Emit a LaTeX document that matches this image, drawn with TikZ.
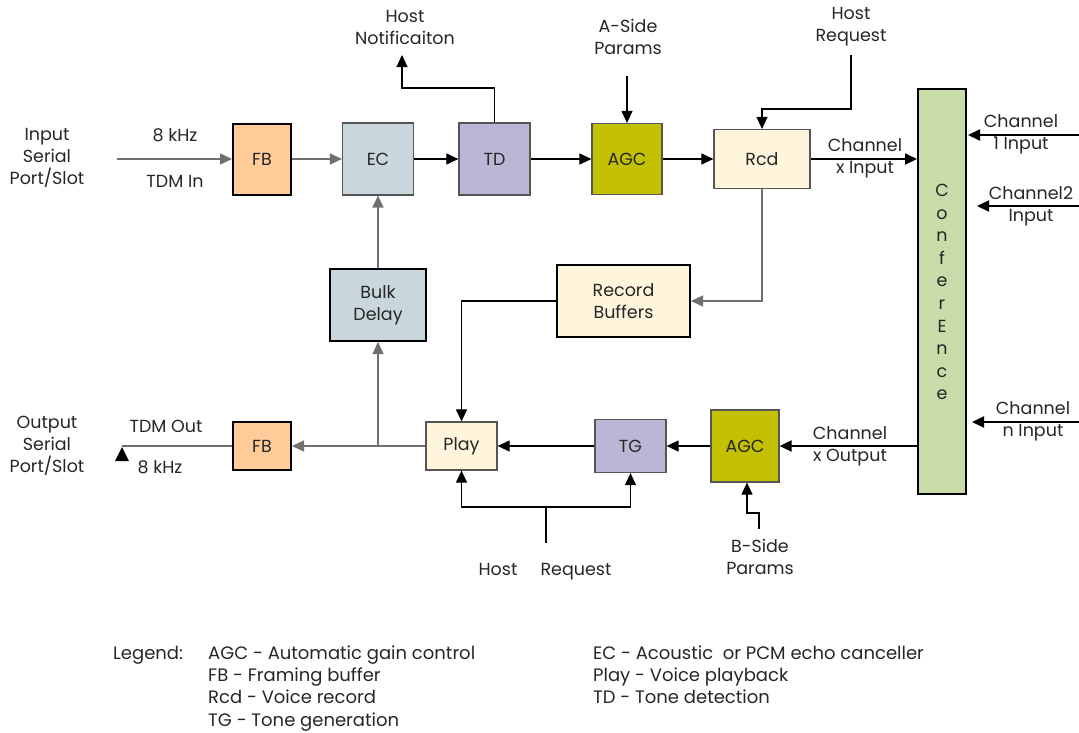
\documentclass[tikz,border=0pt]{standalone}
\usepackage{fontspec}
\setmainfont{Poppins}
\usetikzlibrary{arrows.meta}
\definecolor{fbc}{HTML}{FFCC99}
\definecolor{ecc}{HTML}{C9D7DD}
\definecolor{tdc}{HTML}{B9B7D5}
\definecolor{agcc}{HTML}{C2C000}
\definecolor{crm}{HTML}{FFF5DC}
\definecolor{cnf}{HTML}{CADBAA}
\definecolor{txt}{HTML}{262626}
\definecolor{lgray}{HTML}{707070}
\definecolor{bgray}{HTML}{555555}
\begin{document}
\begin{tikzpicture}[x=1pt,y=-1pt,
  >={Triangle[length=12pt,width=11pt]},
  every node/.style={font=\fontsize{17.5}{22}\selectfont, text=txt},
  box/.style={draw=#1, inner sep=0pt, align=center},
  thickbox/.style={box=black, line width=2pt},
  thinbox/.style={box=bgray, line width=1.2pt},
  lbl/.style={align=center, inner sep=0pt},
  conn/.style={line width=1.1pt, draw=black},
  gconn/.style={line width=1.3pt, draw=lgray},
  bconn/.style={line width=2pt, draw=black},
  leg/.style={anchor=base west, inner sep=0pt, font=\fontsize{18}{20}\selectfont}]
\useasboundingbox (0,0) rectangle (1079,732);

% ---------- blocks ----------
\node[thickbox, fill=fbc, minimum width=58pt, minimum height=71pt] (fb1) at (262,159) {FB};
\node[thinbox, fill=ecc, minimum width=71pt, minimum height=72pt] (ec) at (378,159) {EC};
\node[thinbox, fill=tdc, minimum width=71pt, minimum height=72pt] (td) at (494.5,159) {TD};
\node[thinbox, fill=agcc, minimum width=70pt, minimum height=71pt] (agc1) at (627,159) {AGC};
\node[thinbox, fill=crm, minimum width=96pt, minimum height=59pt] (rcd) at (762,159) {Rcd};
\node[thickbox, fill=cnf, minimum width=48pt, minimum height=405pt] (conf) at (942,291.5) {};
\node[lbl, font=\fontsize{17.5}{22.6}\selectfont] (conftxt) at (942,292) {C\\o\\n\\f\\e\\r\\E\\n\\c\\e};

\node[thickbox, fill=crm, minimum width=133pt, minimum height=72pt] (rb) at (623.5,301) {Record\\Buffers};
\node[thickbox, fill=ecc, minimum width=96pt, minimum height=72pt] (bd) at (378,305) {Bulk\\Delay};

\node[thickbox, fill=fbc, minimum width=58pt, minimum height=48pt] (fb2) at (262,446) {FB};
\node[thinbox, fill=crm, minimum width=71pt, minimum height=48pt] (play) at (461.5,446) {Play};
\node[thinbox, fill=tdc, minimum width=71pt, minimum height=53pt] (tg) at (630.5,446) {TG};
\node[thinbox, fill=agcc, minimum width=68pt, minimum height=72pt] (agc2) at (745,446) {AGC};

% ---------- labels ----------
\node[lbl] (inlbl) at (47,158) {Input\\Serial\\Port/Slot};
\node[lbl] (khz1) at (175,135) {8 kHz};
\node[lbl] (tdmin) at (175,181) {TDM In};
\node[lbl] (hn) at (405,27) {Host\\Notificaiton};
\node[lbl] (asp) at (628,37) {A-Side\\Params};
\node[lbl] (hrq) at (851,27) {Host\\Request};
\node[lbl] (cxi) at (865,158) {Channel\\x Input};
\node[lbl] (c1i) at (1021,134.5) {Channel\\1 Input};
\node[lbl] (c2i) at (1031,206) {Channel2\\Input};
\node[lbl] (cni) at (1033,421.5) {Channel\\n Input};
\node[lbl] (cxo) at (850,446) {Channel\\x Output};
\node[lbl] (bsp) at (760,556.5) {B-Side\\Params};
\node[lbl, anchor=base] (host) at (498,575) {Host};
\node[lbl, anchor=base] (req) at (576,575) {Request};
\node[lbl] (outlbl) at (47,446) {Output\\Serial\\Port/Slot};
\node[lbl] (tdmout) at (166,426) {TDM Out};
\node[lbl] (khz2) at (160,467) {8 kHz};

% ---------- free ends ----------
\coordinate (inS) at (117,159);
\coordinate (hnE) at (402,55);
\coordinate (hnC) at (494,88);
\coordinate (asS) at (627,76);
\coordinate (hrS) at (851,55);
\coordinate (hrC) at (851,109);
\coordinate (jn) at (378,446);
\coordinate (outE) at (122,446);
\coordinate (c1S) at (1079,135);
\coordinate (c2S) at (1079,206);
\coordinate (cnS) at (1079,422);
\coordinate (bsS) at (759,529);
\coordinate (hqS) at (546,543);
\coordinate (hqC) at (546,507);

% ---------- connectors ----------
\draw[gconn,->] (inS) -- (fb1);
\draw[gconn,->] (fb1) -- (ec);
\draw[conn,->] (ec) -- (td);
\draw[conn,->] (td) -- (agc1);
\draw[conn,->] (agc1) -- (rcd);
\draw[bconn,->] (rcd.east) -- (conf.west |- rcd.east);
\draw[conn,->] (td.north) |- (hnC) -| (hnE);
\draw[conn,->] (asS) -- (agc1.north);
\draw[conn,->] (hrS) -- (hrC) -| (rcd.north);
\draw[gconn,->] (rcd.south) |- (rb.east);
\draw[conn,->] (rb.west) -| (play.north);
\draw[conn,->] (tg) -- (play);
\draw[conn,->] (agc2) -- (tg);
\draw[bconn,->] (conf.west |- agc2.east) -- (agc2.east);
\draw[gconn] (play.west) -- (jn);
\draw[gconn,->] (jn) -- (fb2.east);
\draw[gconn,->] (jn) -- (bd.south);
\draw[gconn,->] (bd.north) -- (ec.south);
\draw[gconn] (fb2.west) -- (outE);
\fill[black] (outE) ++(0,1) -- ++(-7,14) -- ++(14,0) -- cycle;
\draw[bconn,->] (c1S) -- ([xshift=1pt]conf.east |- c1S);
\draw[bconn,->] (c2S) -- ([xshift=10pt]conf.east |- c2S);
\draw[bconn,->] (cnS) -- ([xshift=5pt]conf.east |- cnS);
\draw[conn,->] (bsS) -- ++(0,-16) -- ++(-12,0) -- ([xshift=2pt]agc2.south);
\draw[conn,->] (hqC) -| (play.south);
\draw[conn,->] (hqC) -| (tg.south);
\draw[conn] (hqS) -- (hqC);

% ---------- legend ----------
\node[leg] (lg0) at (113,659) {Legend:};
\node[leg] (lg1) at (208,659) {AGC - Automatic gain control};
\node[leg] (lg2) at (208,681) {FB - Framing buffer};
\node[leg] (lg3) at (208,703) {Rcd - Voice record};
\node[leg] (lg4) at (208,726) {TG - Tone generation};
\node[leg] (lg5) at (593,659) {EC - Acoustic\ \ or PCM echo canceller};
\node[leg] (lg6) at (593,681) {Play - Voice playback};
\node[leg] (lg7) at (593,703) {TD - Tone detection};
\end{tikzpicture}
\end{document}
